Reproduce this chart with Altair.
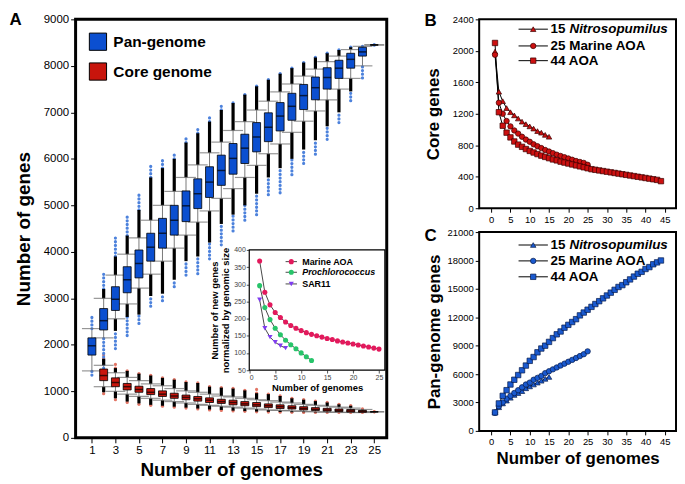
import altair as alt
import pandas as pd

FONT = "Liberation Sans"
BLUE = "#0b4fd0"
RED = "#c8150c"

# ---------------- Panel A data (box plots) ----------------
genomes = list(range(1, 26))
pan_q1 = [1780, 2320, 2740, 3120, 3440, 3800, 4080, 4360, 4650, 4930, 5170, 5430, 5670, 5900, 6150, 6370, 6600, 6830, 7060, 7270, 7500, 7730, 7950, 8210, 8450]
pan_med = [1980, 2520, 2980, 3400, 3750, 4100, 4400, 4680, 4990, 5250, 5500, 5750, 6010, 6230, 6470, 6680, 6920, 7130, 7360, 7530, 7750, 7950, 8140, 8300, 8450]
pan_q3 = [2150, 2780, 3250, 3680, 4040, 4400, 4720, 5000, 5310, 5570, 5830, 6080, 6330, 6530, 6780, 6990, 7210, 7410, 7600, 7760, 7960, 8120, 8270, 8400, 8450]
pan_cap_hi = [2350, 3000, 3500, 3950, 4300, 4680, 5000, 5300, 5600, 5870, 6130, 6360, 6610, 6800, 7050, 7240, 7440, 7610, 7780, 7930, 8090, 8210, 8350, 8420, 8450]
pan_cap_lo = [1440, 2150, 2560, 2880, 3220, 3520, 3800, 4080, 4360, 4640, 4880, 5150, 5360, 5600, 5860, 6110, 6320, 6570, 6810, 7030, 7270, 7500, 7730, 8000, 8450]
pan_dense_hi = [2350, 3200, 3900, 4350, 4900, 5600, 5800, 6000, 6350, 6550, 6800, 7050, 7200, 7380, 7560, 7700, 7830, 7950, 8070, 8180, 8270, 8340, 8400, 8420, 8450]
pan_ext_hi = [2650, 3550, 4300, 4800, 5280, 5870, 6000, 6130, 6500, 6650, 6930, 7150, 7270, 7450, 7620, 7760, 7880, 8000, 8120, 8220, 8310, 8380, 8440, 8450, 8450]
pan_dense_lo = [1440, 2150, 2300, 2600, 2650, 3050, 3100, 3400, 3800, 3900, 4200, 4600, 4800, 5000, 5250, 5600, 5800, 6000, 6200, 6400, 6700, 7000, 7450, 8000, 8450]
pan_ext_lo = [1350, 1500, 1920, 2200, 2460, 2830, 2950, 3250, 3500, 3530, 3850, 4150, 4450, 4680, 4800, 5230, 5270, 5660, 5900, 6100, 6420, 6780, 7250, 7740, 8450]

core_genomes = list(range(2, 26))
core_q1 = [1230, 1100, 1030, 980, 930, 890, 850, 820, 790, 760, 740, 710, 690, 670, 650, 630, 620, 600, 590, 575, 565, 555, 550, 560]
core_med = [1340, 1190, 1100, 1040, 980, 940, 900, 870, 840, 810, 780, 760, 730, 710, 690, 670, 650, 630, 610, 600, 590, 580, 570, 560]
core_q3 = [1480, 1290, 1170, 1110, 1060, 1010, 960, 920, 890, 860, 830, 810, 780, 760, 730, 710, 690, 670, 650, 635, 620, 610, 590, 560]
core_cap_hi = [1560, 1400, 1300, 1230, 1160, 1120, 1060, 1010, 980, 940, 900, 880, 850, 820, 800, 770, 750, 720, 700, 680, 660, 640, 610, 560]
core_cap_lo = [1100, 1000, 940, 890, 850, 810, 780, 750, 720, 700, 680, 660, 640, 620, 600, 590, 580, 570, 560, 555, 550, 545, 545, 560]
core_dense_hi = [1700, 1500, 1440, 1380, 1340, 1290, 1250, 1200, 1180, 1100, 1080, 1060, 1020, 960, 940, 900, 850, 820, 790, 760, 720, 690, 620, 560]
core_ext_hi = [1800, 1600, 1500, 1430, 1380, 1320, 1300, 1240, 1250, 1160, 1120, 1100, 1070, 1050, 980, 920, 870, 840, 820, 780, 740, 700, 640, 600]
core_dense_lo = [980, 850, 780, 740, 710, 690, 670, 650, 630, 610, 600, 585, 575, 565, 560, 555, 550, 550, 545, 545, 545, 545, 545, 560]
core_ext_lo = [950, 820, 760, 720, 700, 680, 660, 640, 620, 600, 590, 580, 570, 560, 555, 552, 548, 547, 545, 545, 545, 545, 545, 560]

box_types = ["Pan-genome", "Core genome"]

# ---------------- Inset data ----------------
inset_names = ["Marine AOA", "Prochlorococcus", "SAR11"]
inset_aoa_x = list(range(2, 26))
inset_aoa_y = [368, 277, 240, 218, 203, 190, 180, 172, 165, 159, 154, 150, 146, 142, 139, 135, 132, 129, 126, 123, 120, 117, 114, 111]
inset_pro_x = list(range(2, 13))
inset_pro_y = [296, 232, 197, 172, 153, 137, 124, 112, 100, 89, 78]
inset_sar_x = list(range(2, 8))
inset_sar_y = [255, 172, 146, 131, 121, 114]
INSET_X_DOMAIN = [0, 26.13]
INSET_Y_DOMAIN = [50, 400]

# ---------------- Panels B / C data ----------------
side_names = ["15 Nitrosopumilus", "25 Marine AOA", "44 AOA"]
nitro_core = [1990, 1480, 1360, 1272, 1220, 1180, 1140, 1100, 1068, 1040, 1012, 980, 960, 932, 908]
marine_core = [1950, 1340, 1200, 1108, 1040, 988, 948, 908, 872, 844, 812, 788, 764, 740, 720, 700, 680, 664, 648, 632, 616, 600, 588, 576, 552]
aoa_core = [2100, 1220, 1048, 960, 900, 848, 808, 780, 752, 728, 708, 688, 668, 652, 636, 620, 608, 592, 580, 568, 556, 544, 532, 520, 508,
            496, 488, 480, 472, 464, 456, 448, 440, 432, 424, 416, 408, 400, 392, 384, 376, 368, 360, 344]
nitro_pan = [2000, 2500, 2900, 3200, 3500, 3800, 4000, 4200, 4500, 4700, 4900, 5100, 5300, 5500, 5700]
marine_pan = [1900, 2600, 3000, 3400, 3700, 4000, 4300, 4600, 4900, 5100, 5400, 5600, 5800, 6100, 6300, 6500, 6700, 6900, 7100, 7300, 7500, 7700, 7900, 8100, 8400]
aoa_pan = [1950, 2900, 3700, 4300, 4900, 5400, 5900, 6400, 6900, 7400, 7800, 8300, 8700, 9000, 9400, 9800, 10200, 10500, 10900, 11200, 11500, 11800,
           12200, 12500, 12800, 13100, 13400, 13700, 14000, 14300, 14600, 14900, 15200, 15400, 15700, 16000, 16300, 16600, 16800, 17100, 17300, 17600, 17800, 18000]

# ---------------- Layout (pixels) ----------------
A_W, A_H = 313, 421
S_W = 198
B_H, C_H = 190, 200
IN_X = [174.7, 311.1]
IN_Y = [352.8, 232.0]

# ======================= Panel A =======================
def box_df(ns, q1, med, q3, clo, chi, dlo, dhi, elo, ehi, typ, oc):
    return pd.DataFrame({"n": ns, "q1": q1, "med": med, "q3": q3, "cap_lo": clo, "cap_hi": chi,
                         "dense_lo": dlo, "dense_hi": dhi, "ext_lo": elo, "ext_hi": ehi,
                         "type": typ, "oc": oc})

box = pd.concat([
    box_df(genomes, pan_q1, pan_med, pan_q3, pan_cap_lo, pan_cap_hi, pan_dense_lo, pan_dense_hi, pan_ext_lo, pan_ext_hi, "Pan-genome", "#4d82dc"),
    box_df(core_genomes, core_q1, core_med, core_q3, core_cap_lo, core_cap_hi, core_dense_lo, core_dense_hi, core_ext_lo, core_ext_hi, "Core genome", "#e27565"),
], ignore_index=True)

a_xs = alt.Scale(domain=[0.037, 25.64], nice=False, zero=False)
a_ys = alt.Scale(domain=[0, 9000], nice=False, zero=False)
a_xax = alt.Axis(values=list(range(1, 26, 2)), format="d", title="Number of genomes", grid=False, domain=False,
                 tickSize=5, tickColor="black", labelFontSize=11.5, labelColor="black", labelPadding=2,
                 titleFontSize=19, titleFontWeight="bold", titleColor="black", titlePadding=4)
a_yax = alt.Axis(values=list(range(0, 9001, 1000)), format="d", title="Number of genes", grid=False, domain=False,
                 tickSize=5, tickColor="black", labelFontSize=11.5, labelColor="black", labelPadding=2,
                 titleFontSize=19, titleFontWeight="bold", titleColor="black", titlePadding=10)

def AX():
    return alt.X("n:Q", scale=a_xs, axis=a_xax)

def AY(f):
    return alt.Y(f"{f}:Q", scale=a_ys, axis=a_yax)

base = alt.Chart(box)
whisk = base.mark_rule(color="#7a7a7a", strokeWidth=1).encode(x=AX(), y=AY("cap_lo"), y2="cap_hi:Q")
ext_hi = base.mark_rule(strokeWidth=3.2, strokeDash=[0.1, 3.6], strokeCap="round").encode(
    x=AX(), y=AY("dense_hi"), y2="ext_hi:Q", stroke=alt.Stroke("oc:N", scale=None))
ext_lo = base.mark_rule(strokeWidth=3.2, strokeDash=[0.1, 3.6], strokeCap="round").encode(
    x=AX(), y=AY("ext_lo"), y2="dense_lo:Q", stroke=alt.Stroke("oc:N", scale=None))
dense_hi = base.mark_rule(color="black", strokeWidth=3.2).encode(x=AX(), y=AY("cap_hi"), y2="dense_hi:Q")
dense_lo = base.mark_rule(color="black", strokeWidth=3.2).encode(x=AX(), y=AY("dense_lo"), y2="cap_lo:Q")
cap_hi = base.mark_tick(orient="horizontal", size=20, thickness=1.2, color="#6a6a6a").encode(x=AX(), y=AY("cap_hi"))
cap_lo = base.mark_tick(orient="horizontal", size=20, thickness=1.2, color="#6a6a6a").encode(x=AX(), y=AY("cap_lo"))
boxes = base.mark_bar(size=8, stroke="black", strokeWidth=0.8).encode(
    x=AX(), y=AY("q1"), y2="q3:Q",
    color=alt.Color("type:N", scale=alt.Scale(domain=box_types, range=[BLUE, RED]),
                    legend=alt.Legend(title=None, orient="top-left", offset=13, padding=0,
                                      symbolType="square", symbolSize=300, symbolStrokeColor="black",
                                      symbolStrokeWidth=1, symbolOpacity=1, labelFontSize=15.5,
                                      labelFontWeight="bold", labelColor="black", labelOffset=6,
                                      rowPadding=7, labelFont=FONT)))
medians = base.mark_tick(orient="horizontal", size=8, thickness=1.5, color="black").encode(x=AX(), y=AY("med"))

letters = pd.DataFrame({"t": ["A", "B", "C"]})
letter_a = alt.Chart(letters).transform_filter("datum.t == 'A'").mark_text(
    align="left", baseline="alphabetic", fontSize=17, fontWeight="bold", font=FONT, color="black").encode(
    text="t:N", x=alt.value(-66.5), y=alt.value(6))

a_main = alt.layer(whisk, ext_hi, ext_lo, dense_hi, dense_lo, cap_hi, cap_lo, boxes, medians, letter_a)

# ---- inset ----
inset = pd.concat([
    pd.DataFrame({"series": "Marine AOA", "x": inset_aoa_x, "y": inset_aoa_y}),
    pd.DataFrame({"series": "Prochlorococcus", "x": inset_pro_x, "y": inset_pro_y}),
    pd.DataFrame({"series": "SAR11", "x": inset_sar_x, "y": inset_sar_y}),
], ignore_index=True)

i_xs = alt.Scale(domain=INSET_X_DOMAIN, range=IN_X, nice=False, zero=False)
i_ys = alt.Scale(domain=INSET_Y_DOMAIN, range=IN_Y, nice=False, zero=False)
i_xax = alt.Axis(orient="bottom", offset=-(A_H - IN_Y[0]), values=[0, 5, 10, 15, 20, 25], grid=False, domain=False,
                 tickSize=3, tickColor="#555", labelFontSize=7, labelColor="#444", labelPadding=1,
                 title="Number of genomes", titleFontSize=9.5, titleFontWeight="bold", titleColor="black", titlePadding=2)
i_yax = alt.Axis(orient="left", offset=-IN_X[0], values=list(range(50, 401, 50)), grid=False, domain=False,
                 tickSize=3, tickColor="#555", labelFontSize=7, labelColor="#444", labelPadding=1,
                 title=["Number of new genes", "normalized by genomic size"], titleFontSize=9.5,
                 titleFontWeight="bold", titleColor="black", titlePadding=3, titleLineHeight=11)

def IX(f):
    return alt.X(f"{f}:Q", scale=i_xs, axis=i_xax)

def IY(f):
    return alt.Y(f"{f}:Q", scale=i_ys, axis=i_yax)

i_color = alt.Color("series:N", scale=alt.Scale(domain=inset_names, range=["#e3195c", "#27c46a", "#7f3cf0"]), legend=None)
i_shape = alt.Shape("series:N", scale=alt.Scale(domain=inset_names, range=["circle", "circle", "triangle-down"]), legend=None)

frame_df = pd.DataFrame({"x0": [INSET_X_DOMAIN[0]], "x1": [INSET_X_DOMAIN[1]],
                         "y0": [INSET_Y_DOMAIN[0]], "y1": [INSET_Y_DOMAIN[1]]})
i_bg = alt.Chart(frame_df).mark_rect(fill="white", stroke="black", strokeWidth=1.2).encode(
    x=IX("x0"), x2="x1:Q", y=IY("y0"), y2="y1:Q")
i_lines = alt.Chart(inset).mark_line(color="#333", strokeWidth=0.9).encode(
    x=IX("x"), y=IY("y"), detail="series:N", order="x:Q")
i_pts = alt.Chart(inset).mark_point(filled=True, size=26, opacity=1).encode(
    x=IX("x"), y=IY("y"), color=i_color, shape=i_shape)

i_leg = pd.DataFrame({"series": inset_names, "y": [366, 335, 301],
                      "x1": [7.0] * 3, "x2": [9.2] * 3, "xm": [8.1] * 3, "xt": [10.2] * 3,
                      "italic": [False, True, False]})
i_leg_line = alt.Chart(i_leg).mark_rule(color="#333", strokeWidth=0.9).encode(x=IX("x1"), x2="x2:Q", y=IY("y"))
i_leg_pt = alt.Chart(i_leg).mark_point(filled=True, size=26, opacity=1).encode(
    x=IX("xm"), y=IY("y"), color=i_color, shape=i_shape)
i_leg_txt = alt.Chart(i_leg).transform_filter("!datum.italic").mark_text(
    align="left", baseline="middle", fontSize=9, fontWeight="bold", font=FONT, color="black").encode(
    x=IX("xt"), y=IY("y"), text="series:N")
i_leg_txt_it = alt.Chart(i_leg).transform_filter("datum.italic").mark_text(
    align="left", baseline="middle", fontSize=9, fontWeight="bold", fontStyle="italic", font=FONT, color="black").encode(
    x=IX("xt"), y=IY("y"), text="series:N")

inset_layer = alt.layer(i_bg, i_lines, i_pts, i_leg_line, i_leg_pt, i_leg_txt, i_leg_txt_it)

panel_a = alt.layer(a_main, inset_layer).resolve_scale(
    x="independent", y="independent", color="independent", shape="independent", stroke="independent"
).properties(width=A_W, height=A_H, view=alt.ViewBackground(stroke="black", strokeWidth=3))

# ======================= Panels B / C =======================
def side_df(vals):
    return pd.concat([pd.DataFrame({"series": nm, "n": list(range(1, len(v) + 1)), "v": v})
                      for nm, v in zip(side_names, vals)], ignore_index=True)

def side_panel(df, ydom, ystep, height, fill, stroke, ytitle, xtitle, ytpad, leg_y, letter, letter_y):
    xs = alt.Scale(domain=[-3.1, 47.9], nice=False, zero=False)
    ys = alt.Scale(domain=ydom, nice=False, zero=False)
    xkw = dict(values=list(range(0, 46, 5)), format="d", grid=False, domain=False, tickSize=4, tickColor="black",
               labelFontSize=9.5, labelColor="black", labelPadding=2)
    if xtitle:
        xkw.update(title=xtitle, titleFontSize=17, titleFontWeight="bold", titleColor="black", titlePadding=4)
    else:
        xkw.update(title="")
    xax = alt.Axis(**xkw)
    yax = alt.Axis(values=list(range(ydom[0], ydom[1] + 1, ystep)), format="d", grid=False, domain=False, tickSize=4,
                   tickColor="black", labelFontSize=9.5, labelColor="black", labelPadding=2,
                   title=ytitle, titleFontSize=17, titleFontWeight="bold", titleColor="black", titlePadding=ytpad)

    def SX(f):
        return alt.X(f"{f}:Q", scale=xs, axis=xax)

    def SY(f):
        return alt.Y(f"{f}:Q", scale=ys, axis=yax)

    shp = alt.Shape("series:N", scale=alt.Scale(domain=side_names, range=["triangle-up", "circle", "square"]), legend=None)
    line = alt.Chart(df).mark_line(color="black", strokeWidth=1).encode(
        x=SX("n"), y=SY("v"), detail="series:N", order="n:Q")
    pts = alt.Chart(df).mark_point(filled=True, size=30, opacity=1, strokeWidth=0.7).encode(
        x=SX("n"), y=SY("v"), shape=shp, fill=alt.value(fill), stroke=alt.value(stroke))

    leg = pd.DataFrame({"series": side_names, "y": leg_y, "x1": [7.1] * 3, "x2": [14.7] * 3, "xm": [10.9] * 3,
                        "xt": [15.4] * 3, "plain": ["15", "25 Marine AOA", "44 AOA"],
                        "ital": ["Nitrosopumilus", "", ""]})
    l_line = alt.Chart(leg).mark_rule(color="black", strokeWidth=1).encode(x=SX("x1"), x2="x2:Q", y=SY("y"))
    l_pt = alt.Chart(leg).mark_point(filled=True, size=30, opacity=1, strokeWidth=0.7).encode(
        x=SX("xm"), y=SY("y"), shape=shp, fill=alt.value(fill), stroke=alt.value(stroke))
    l_txt = alt.Chart(leg).mark_text(align="left", baseline="middle", fontSize=13.5, fontWeight="bold",
                                     font=FONT, color="black").encode(x=SX("xt"), y=SY("y"), text="plain:N")
    l_it = alt.Chart(leg).transform_filter("datum.ital != ''").mark_text(
        align="left", baseline="middle", fontSize=13.5, fontWeight="bold", fontStyle="italic", dx=19,
        font=FONT, color="black").encode(x=SX("xt"), y=SY("y"), text="ital:N")
    let = alt.Chart(letters).transform_filter(f"datum.t == '{letter}'").mark_text(
        align="left", baseline="alphabetic", fontSize=17, fontWeight="bold", font=FONT, color="black").encode(
        text="t:N", x=alt.value(-55), y=alt.value(letter_y))
    return alt.layer(line, pts, l_line, l_pt, l_txt, l_it, let).properties(
        width=S_W, height=height, view=alt.ViewBackground(stroke="black", strokeWidth=2))

panel_b = side_panel(side_df([nitro_core, marine_core, aoa_core]), [0, 2400], 400, B_H, "#cc1010", "#3a0000",
                     "Core genes", None, 10, [2275, 2062, 1875], "B", 7)
panel_c = side_panel(side_df([nitro_pan, marine_pan, aoa_pan]), [0, 21000], 3000, C_H, "#1a5ad0", "#061a4a",
                     "Pan-genome genes", "Number of genomes", 4, [19635, 17955, 16275], "C", 9)

right = alt.vconcat(panel_b, panel_c, spacing=1)
chart = alt.hconcat(panel_a, right, spacing=34).resolve_scale(color="independent", shape="independent").properties(
    padding={"left": 0, "top": 0, "right": 0, "bottom": 0}
).configure(font=FONT).configure_view(stroke="black")

chart.save("out.html", embed_options={"renderer": "svg", "actions": False})
